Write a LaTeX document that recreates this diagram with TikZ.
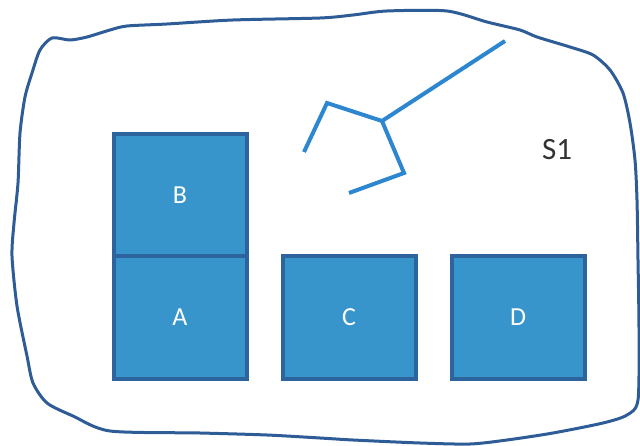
\documentclass[tikz,border=0pt]{standalone}
\usepackage{fontspec}
\setmainfont{Carlito}
\usepackage{tikz}
\usetikzlibrary{positioning}
\definecolor{blockfill}{RGB}{55,149,204}
\definecolor{blockline}{RGB}{46,100,158}
\definecolor{setline}{RGB}{46,92,150}
\definecolor{armline}{RGB}{44,134,208}
\tikzset{
  block/.style={
    rectangle, draw=blockline, line width=4pt, fill=blockfill,
    minimum width=133pt, minimum height=122pt, inner sep=0pt,
    font=\fontsize{26}{30}\selectfont, text=white
  },
  setlabel/.style={font=\fontsize{31}{36}\selectfont, text=black!80},
  arm/.style={draw=armline, line width=4pt, line join=miter},
}
\begin{document}
\begin{tikzpicture}[x=1pt, y=-1pt, node distance=32pt]
  \useasboundingbox (0,0) rectangle (640,446);
  % the set S1
  \draw[setline, line width=3pt] plot[smooth cycle, tension=0.45] coordinates {
    (52,38) (70,40) (87,37) (110,30) (127,26) (167,24) (233,20) (320,18)
    (353,15) (387,11) (447,11) (487,22) (520,30) (537,37) (570,47) (593,55)
    (610,70) (623,93) (630,123) (635,160) (637,200) (638,260) (639,330)
    (638,400) (627,415) (603,423) (553,433) (507,440) (470,444) (420,443)
    (353,440) (320,438) (267,435) (200,433) (110,431) (73,416) (47,403)
    (33,383) (27,356) (17,306) (12,256) (14,223) (18,183) (20,133)
    (25,97) (32,73) (40,50)};
  \node[setlabel] (S1) at (557,150) {S1};

  % blocks
  \node[block] (A) at (180,317.5) {A};
  \node[block, above=-4pt of A] (B) {B};
  \node[block, right=of A] (C) {C};
  \node[block, right=of C] (D) {D};

  % gripper
  \coordinate (armtop) at (505,41);
  \coordinate (wrist) at (382,121);
  \coordinate (upknee) at (327,103);
  \coordinate (uptip) at (304,152);
  \coordinate (lowknee) at (404,173);
  \coordinate (lowtip) at (349,193);
  \draw[arm] (armtop) -- (wrist);
  \draw[arm] (uptip) -- (upknee) -- (wrist) -- (lowknee) -- (lowtip);
\end{tikzpicture}
\end{document}
